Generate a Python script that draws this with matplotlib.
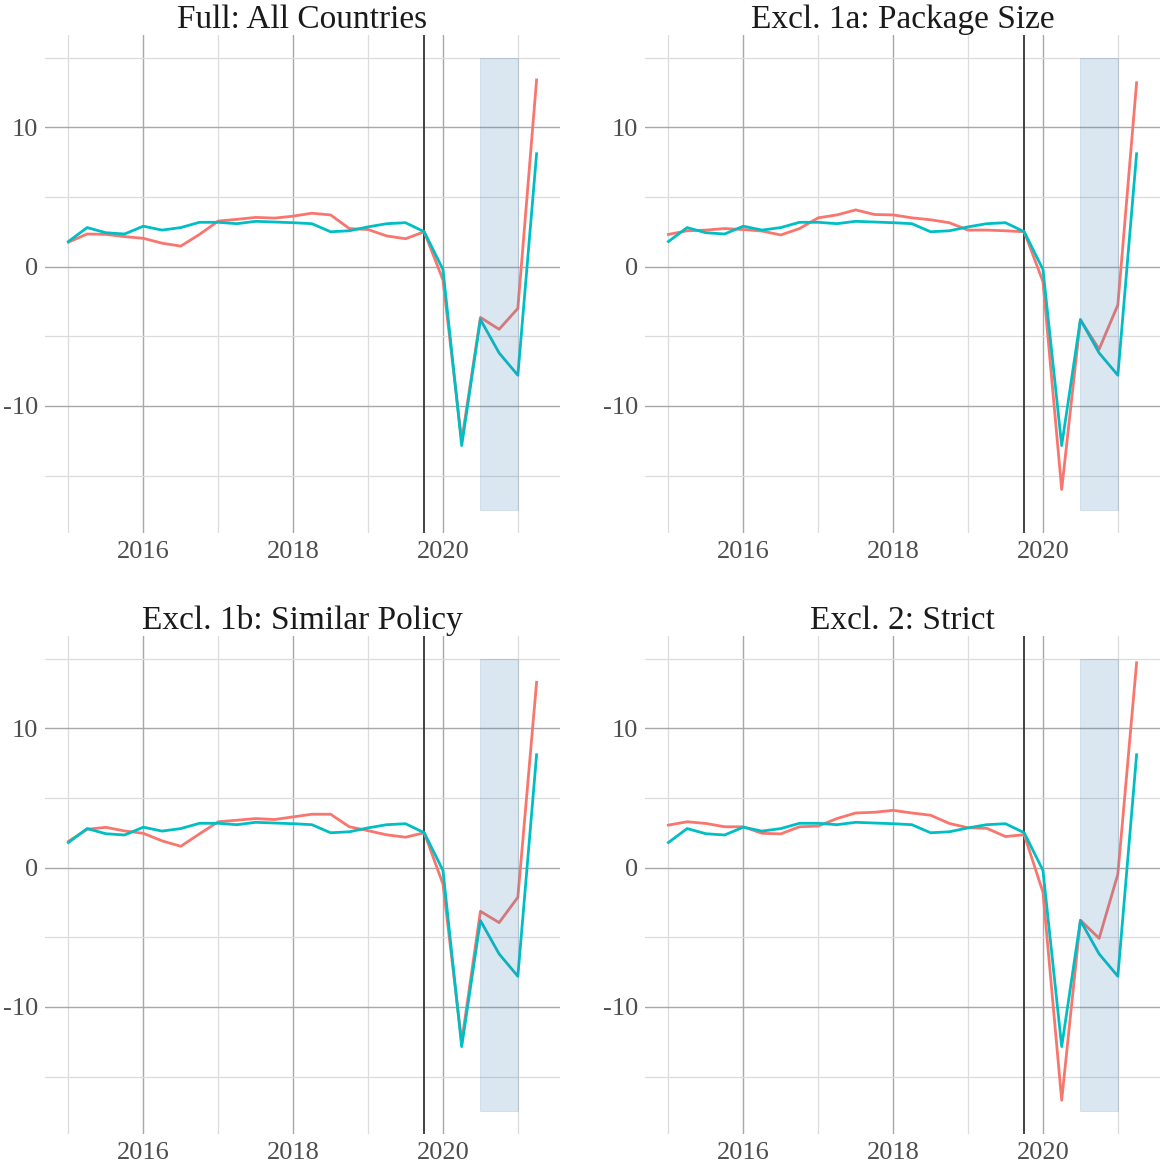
import matplotlib
matplotlib.use("Agg")
import matplotlib.pyplot as plt
import numpy as np

plt.rcParams['font.family'] = ['Liberation Serif', 'DejaVu Serif']
plt.rcParams['axes.unicode_minus'] = False

# quarterly dates 2015Q1 .. 2021Q2
quarters = np.arange(26) / 4 + 2015.0

titles = ["Full: All Countries", "Excl. 1a: Package Size",
          "Excl. 1b: Similar Policy", "Excl. 2: Strict"]

# cyan series (same in every panel)
baseline = [1.8, 2.8, 2.43, 2.34, 2.9, 2.62, 2.8, 3.18, 3.18, 3.08, 3.25, 3.2, 3.15,
            3.08, 2.5, 2.57, 2.85, 3.08, 3.15, 2.5, -0.2, -12.85, -3.8, -6.2, -7.8, 8.1]

# red series, one per panel
full = [1.75, 2.34, 2.31, 2.15, 2.03, 1.68, 1.47, 2.31, 3.27, 3.39, 3.53, 3.48, 3.62,
        3.83, 3.71, 2.73, 2.66, 2.2, 2.0, 2.5, -0.96, -12.5, -3.65, -4.5, -3.0, 13.4]
excl_1a = [2.31, 2.57, 2.62, 2.73, 2.66, 2.55, 2.27, 2.73, 3.5, 3.71, 4.07, 3.74, 3.71,
           3.5, 3.36, 3.15, 2.62, 2.62, 2.57, 2.5, -1.08, -16.0, -3.83, -5.93, -2.75, 13.2]
excl_1b = [1.88, 2.75, 2.89, 2.63, 2.46, 1.92, 1.53, 2.42, 3.29, 3.4, 3.52, 3.45, 3.64,
           3.83, 3.83, 2.93, 2.65, 2.35, 2.18, 2.5, -1.18, -12.5, -3.14, -3.95, -2.13, 13.3]
excl_2 = [3.05, 3.29, 3.17, 2.93, 2.93, 2.46, 2.42, 2.93, 2.98, 3.52, 3.92, 3.97, 4.11,
          3.92, 3.76, 3.17, 2.86, 2.82, 2.23, 2.36, -1.77, -16.7, -3.78, -5.08, -0.47, 14.7]
treated = [full, excl_1a, excl_1b, excl_2]

policy_date = 2019.75
shade_x = (2020.5, 2021.0)
shade_y = (-17.5, 15.0)

W, H = 1160, 1167
fig = plt.figure(figsize=(W / 100, H / 100), dpi=100)
boxes = [(45, 35), (645, 35), (45, 636), (645, 636)]
pw, ph = 515, 498


def draw_panel(ax, title, red):
    ax.set_xlim(2014.6875, 2021.5625)
    ax.set_ylim(-19.125, 16.625)
    for s in ax.spines.values():
        s.set_visible(False)
    for x in [2015, 2017, 2019, 2021]:
        ax.axvline(x, color='#dcdcdc', lw=0.9, zorder=0)
    for x in [2016, 2018, 2020]:
        ax.axvline(x, color='#a8a8a8', lw=1.0, zorder=0)
    for y in [-15, -5, 5, 15]:
        ax.axhline(y, color='#dcdcdc', lw=0.9, zorder=0)
    for y in [-10, 0, 10]:
        ax.axhline(y, color='#a8a8a8', lw=1.0, zorder=0)
    ax.axvline(policy_date, color='#333333', lw=1.3, zorder=1)
    ax.plot(quarters, red, color='#F8766D', lw=2.0, zorder=2)
    ax.plot(quarters, baseline, color='#00BFC4', lw=2.0, zorder=3)
    ax.fill_between(shade_x, shade_y[0], shade_y[1], color='steelblue',
                    alpha=0.2, lw=0.6, zorder=4)
    ax.set_xticks([2016, 2018, 2020])
    ax.set_xticklabels(['2016', '2018', '2020'])
    ax.set_yticks([-10, 0, 10])
    ax.set_yticklabels(['-10', '0', '10'])
    ax.tick_params(length=0, labelsize=19, colors='#4d4d4d', pad=5)
    ax.tick_params(axis='x', pad=6)
    ax.set_title(title, fontsize=24, color='#1a1a1a', pad=1)


for (left, top), title, red in zip(boxes, titles, treated):
    ax = fig.add_axes([left / W, 1 - (top + ph) / H, pw / W, ph / H])
    draw_panel(ax, title, red)

fig.savefig('out.png', dpi=100)
